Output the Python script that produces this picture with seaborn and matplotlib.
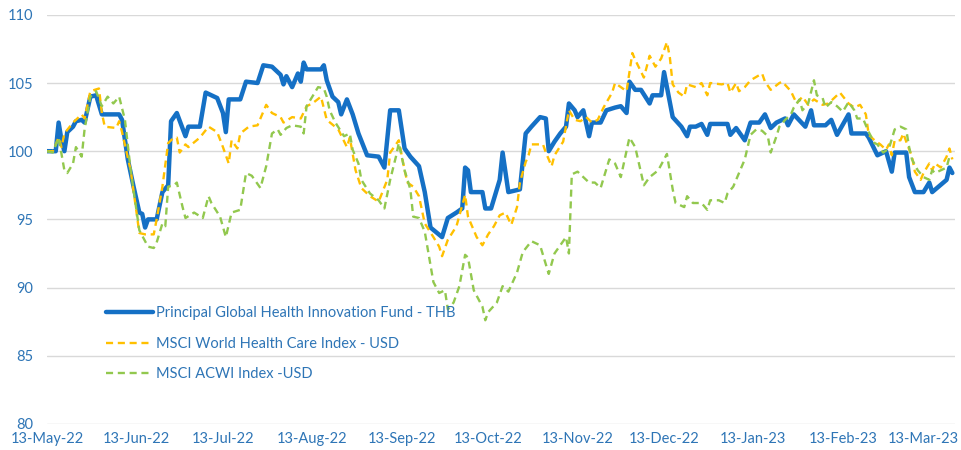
import pandas as pd
import matplotlib
matplotlib.use("Agg")
import matplotlib.pyplot as plt
import matplotlib.dates as mdates
import seaborn as sns

start = pd.Timestamp("2022-05-13")

# days since 13-May-22 and rebased values (100 = start)
fund_days = [0, 1, 3, 4, 5, 6, 7, 9, 10, 12, 13, 15, 17, 19, 25, 26, 28, 30, 32, 33, 34, 35, 38, 40, 42, 43,
             45, 48, 49, 53, 55, 59, 61, 62, 63, 67, 69, 73, 75, 78, 81, 82, 83, 85, 87, 88, 89, 90, 95, 96,
             97, 99, 101, 102, 104, 106, 108, 111, 115, 117, 119, 122, 124, 126, 129, 131, 133, 137, 139, 142,
             144, 145, 146, 147, 151, 152, 154, 157, 158, 160, 164, 166, 168, 171, 173, 174, 176, 178, 180, 181,
             183, 184, 186, 188, 189, 192, 194, 197, 199, 201, 202, 204, 206, 209, 210, 213, 214, 217, 220, 222,
             223, 225, 227, 229, 230, 236, 237, 239, 242, 244, 247, 249, 251, 253, 256, 257, 259, 263, 265, 266,
             270, 272, 274, 278, 279, 284, 285, 288, 291, 293, 294, 298, 299, 301, 304, 306, 307, 312, 313, 314]
fund_vals = [100, 100, 100, 102.1, 100.8, 100, 101.4, 101.8, 102.2, 102.3, 102.1, 104, 104.1, 102.7, 102.7, 102.3,
             99.4, 97.4, 95.5, 95.4, 94.4, 95, 95, 97, 97.5, 102.2,
             102.8, 101.1, 101.8, 101.8, 104.3, 103.9, 102.8, 101.4, 103.8, 103.8, 105.1, 105, 106.3, 106.2, 105.6,
             104.9, 105.5, 104.7, 105.7, 105.1, 106.5, 106, 106, 106.3,
             105.2, 104, 103.6, 102.7, 103.8, 102.7, 101.3, 99.7, 99.6, 98.8, 103, 103, 100.2, 99.6, 98.9, 97, 94.4,
             93.7, 95.1, 95.5,
             95.8, 98.8, 98.6, 97, 97, 95.8, 95.8, 97.9, 99.9, 97, 97.2, 101.3, 101.8, 102.5, 102.4, 100, 100.7,
             101.3, 101.8, 103.5,
             103, 102.5, 103, 101.1, 102.1, 102.1, 103, 103.2, 103.3, 102.8, 105.1, 104.5, 104.5, 103.5, 104.1,
             104.1, 105.8, 102.5, 101.8, 101.1,
             101.8, 101.8, 102, 101.2, 102, 102, 101.2, 101.7, 100.8, 102.1, 102.1, 102.7, 101.7, 102.1, 102.4,
             101.9, 102.7, 101.8, 103, 101.9,
             101.9, 102.3, 101.2, 102.7, 101.3, 101.3, 101, 99.7, 100, 98.5, 99.9, 99.9, 98.1, 97, 97, 97.7, 97,
             97.9, 98.8, 98.4]

health_days = [0, 2, 4, 5, 6, 9, 12, 13, 15, 18, 19, 20, 24, 25, 26, 29, 32, 34, 37, 38, 40, 42, 44, 45, 46, 48,
               49, 53, 56, 59, 61, 63, 64, 66, 67, 70, 73, 76, 78, 81, 82, 85, 88, 90, 92, 95, 97, 101, 104, 105,
               107, 109, 112, 115, 118, 119, 122, 124, 125, 127, 129, 131, 134, 136, 137, 139, 142, 145, 146, 149,
               151, 153, 155, 157, 159, 161, 163, 164, 166, 167, 168, 172, 173, 175, 176, 179, 181, 183, 185, 187,
               189, 191, 193, 196, 197, 199, 201, 203, 204, 207, 209, 211, 213, 215, 216, 217, 219, 221, 222, 225,
               227, 229, 230, 234, 236, 237, 239, 240, 242, 244, 248, 249, 251, 254, 255, 258, 260, 262, 264, 266,
               269, 271, 273, 275, 278, 280, 282, 284, 285, 287, 289, 291, 292, 293, 294, 296, 297, 298, 300, 301,
               303, 304, 306, 307, 308, 310, 312, 313, 314]
health_vals = [100, 100, 101, 100.3, 101.3, 102.1, 102.7, 102.4, 104.4, 104.6, 102.8, 101.8, 101.7, 102.2, 101.4,
               98.6, 94, 93.9, 93.9, 95, 97.4, 100.6, 101, 101, 99.9, 100.5,
               100.3, 101, 101.8, 101.4, 100.3, 99.1, 100.8, 100.2, 101.3, 101.8, 101.9, 103.4, 102.8, 102.5, 102.1,
               102.5, 102.4, 103.3, 103.5, 104, 102.3, 101.6, 100.3, 101,
               98.6, 97.3, 96.7, 96.3, 97.9, 99.9, 100.8, 98.6, 97.7, 97.4, 96.7, 94.7, 93.7, 93, 92.3, 93.5, 94.5,
               96.8, 95.2, 93.7,
               93.1, 93.9, 94.5, 95.3, 95.5, 94.6, 95.9, 97.7, 99.2, 99.7, 100.5, 100.5, 99.9, 98.9, 99.7, 100.7, 103,
               102.3, 102.2, 102.5,
               102.1, 102.3, 103.2, 104.3, 105, 104.7, 104.4, 107.2, 106.7, 105.4, 107, 106.2, 106.8, 108, 106.9,
               104.9, 104.3, 104, 104.9, 104.7,
               105, 104.1, 105, 104.9, 105, 104.3, 105, 104.4, 104.7, 105.2, 105.7, 105.1, 104.5, 105, 105.1, 104.4,
               103.5, 104, 103.4, 103.8,
               103.4, 103.5, 103.9, 104.3, 103.5, 103.2, 103.4, 102.7, 101.2, 100.8, 100.5, 100.1, 100.5, 99.7, 100.8,
               100.8, 101.3, 100.7, 99.6, 98.5,
               97.9, 98.4, 99.1, 98.6, 99.1, 98.8, 99.6, 100.2, 99.4]

acwi_days = [0, 2, 4, 6, 7, 9, 10, 12, 13, 15, 17, 19, 21, 23, 25, 27, 29, 32, 35, 37, 38, 40, 41, 42, 44, 45,
             47, 48, 51, 54, 56, 57, 60, 62, 64, 67, 69, 71, 74, 76, 78, 80, 81, 83, 85, 88, 89, 90, 92, 94,
             96, 97, 98, 100, 103, 105, 106, 108, 109, 112, 115, 117, 119, 121, 122, 124, 126, 127, 129, 131,
             134, 136, 138, 139, 141, 143, 145, 146, 148, 151, 152, 153, 156, 158, 160, 163, 165, 168, 171, 174,
             176, 180, 181, 182, 184, 186, 188, 190, 192, 195, 197, 199, 202, 204, 207, 209, 212, 214, 215, 217,
             218, 221, 222, 224, 227, 229, 230, 233, 235, 236, 238, 240, 242, 244, 246, 248, 250, 251, 253, 254,
             256, 258, 259, 261, 262, 264, 266, 267, 269, 270, 272, 274, 276, 278, 280, 281, 283, 285, 287, 288,
             290, 292, 294, 296, 298, 299, 300, 302, 304, 306, 307, 308, 310, 312, 313]
acwi_vals = [100, 99.9, 101, 98.6, 98.4, 99.1, 100.3, 99.6, 101.6, 104, 104.4, 103.3, 104, 103.5, 104, 102.3, 98.6,
             94.2, 93, 92.9, 93.3, 94.7, 94.5, 97.4, 97.5, 97.7,
             95.9, 95.1, 95.5, 95.1, 96.7, 96.2, 95.2, 93.7, 95.5, 95.7, 98.4, 98.2, 97.3, 98.9, 101.3, 101.6, 101.2,
             101.7, 101.9, 101.8, 101.3, 103.3, 104, 104.7,
             104.6, 104, 103, 102.1, 101.1, 101.3, 100.1, 99.1, 97.9, 96.9, 96.4, 95.8, 97.9, 99.6, 100.6, 98.6,
             97.2, 95.2, 95.1, 94.1,
             90.4, 89.6, 89.8, 88.4, 88.9, 90.1, 92.4, 92.2, 89.8, 88.6, 87.6, 88.2, 88.9, 90.1, 89.7, 91.1, 92.6,
             93.4, 93.1, 91,
             92.5, 93.7, 92.5, 98.3, 98.5, 98.1, 97.7, 97.7, 97.3, 99.4, 99.1, 98.1, 101, 100.3, 97.5, 98.1, 98.6,
             99.4, 99.8, 97.2,
             96.2, 95.9, 96.7, 96.2, 96.2, 95.7, 96.4, 96.4, 96.2, 96.9, 97.4, 98.4, 99.4, 101.2, 101.6, 101.5,
             101.1, 99.9, 101.1, 101.8,
             102.3, 102.7, 103.2, 103.8, 103, 103.5, 105.2, 104.1, 103.9, 103.2, 103.6, 103.3, 102.9, 103.6, 103,
             102.4, 102.4, 101.4, 100.6, 100.5,
             99.9, 100.2, 101.6, 101.8, 101.6, 100.3, 99.4, 98.6, 98.1, 97.9, 98.6, 98.4, 98.6, 98.8, 99.6]

labels = ["Principal Global Health Innovation Fund - THB",
          "MSCI World Health Care Index - USD",
          "MSCI ACWI Index -USD"]
y_ticks = [80, 85, 90, 95, 100, 105, 110]


def to_dates(days):
    return start + pd.to_timedelta(days, unit="D")


sns.set_style("white")
plt.rcParams["font.family"] = ["Lato", "DejaVu Sans"]
text_blue = "#2E75B6"

fig = plt.figure(figsize=(9.61, 4.5), dpi=100)
ax = fig.add_axes([0.049, 0.058, 0.945, 0.909])

sns.lineplot(x=to_dates(fund_days), y=fund_vals, ax=ax, color="#1570C5", lw=3.2, label=labels[0])
sns.lineplot(x=to_dates(health_days), y=health_vals, ax=ax, color="#FFC000", lw=1.7,
             label=labels[1]).lines[-1].set_dashes((3, 2))
sns.lineplot(x=to_dates(acwi_days), y=acwi_vals, ax=ax, color="#92C84E", lw=1.7,
             label=labels[2]).lines[-1].set_dashes((3, 2))

ax.set_ylim(80, 110)
ax.set_yticks(y_ticks)
ax.set_xlim(start, start + pd.Timedelta(days=315))
ax.xaxis.set_major_locator(mdates.MonthLocator(bymonthday=13))
ax.xaxis.set_major_formatter(mdates.DateFormatter("%d-%b-%y"))
ax.grid(axis="y", color="#D9D9D9", lw=1)
ax.set_axisbelow(True)
for s in ax.spines.values():
    s.set_visible(False)
ax.tick_params(axis="both", length=0, labelsize=10.5, colors=text_blue)
ax.tick_params(axis="y", pad=10)
ax.tick_params(axis="x", pad=6)
ax.set_xlabel("")
ax.set_ylabel("")

leg = ax.legend(loc="center left", bbox_to_anchor=(0.065, 0.196), frameon=False,
                fontsize=10.5, handlelength=3.2, handletextpad=0.2, labelspacing=1.15,
                borderaxespad=0, borderpad=0)
for t in leg.get_texts():
    t.set_color(text_blue)

fig.savefig("out.png", dpi=100)
